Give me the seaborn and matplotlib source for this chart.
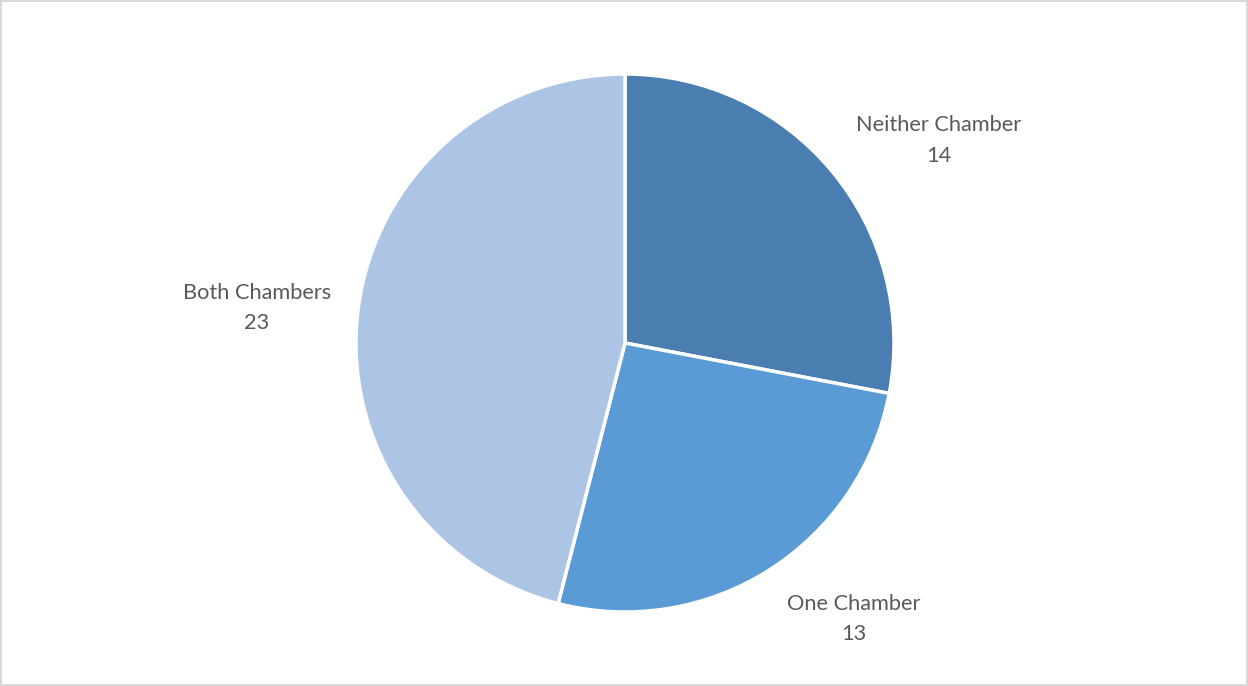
import matplotlib
matplotlib.use("Agg")
import matplotlib.pyplot as plt
import seaborn as sns

sns.set_theme(style="white")
plt.rcParams['font.family'] = ['Lato', 'DejaVu Sans']

categories = ["Neither Chamber", "One Chamber", "Both Chambers"]
values = [14, 13, 23]
colors = ["#4A7EB0", "#5B9BD5", "#ADC5E5"]
# label positions relative to pie radius
label_pos = [(1.165, 0.753), (0.851, -1.027), (-1.369, 0.130)]

fig = plt.figure(figsize=(12.48, 6.86), dpi=100)
fig.patch.set_facecolor("white")
ax = fig.add_axes([0.5008 - 0.21554, 0.5 - 0.39213, 0.43109, 0.78426])
wedges, _ = ax.pie(values, colors=colors, startangle=90, counterclock=False,
                   radius=1.0, wedgeprops=dict(edgecolor="white", linewidth=2.5))
for cat, val, (x, y) in zip(categories, values, label_pos):
    ax.text(x, y, f"{cat}\n{val}", ha="center", va="center", fontsize=15.7,
            color="#595959", linespacing=1.65)
ax.set_xlim(-1, 1)
ax.set_ylim(-1, 1)
ax.set_aspect("equal")
ax.axis("off")

border = plt.Rectangle((0.001, 0.001), 0.998, 0.997, transform=fig.transFigure,
                       fill=False, edgecolor="#D9D9D9", linewidth=1.5)
fig.patches.append(border)

fig.savefig("out.png", dpi=100, facecolor="white")
